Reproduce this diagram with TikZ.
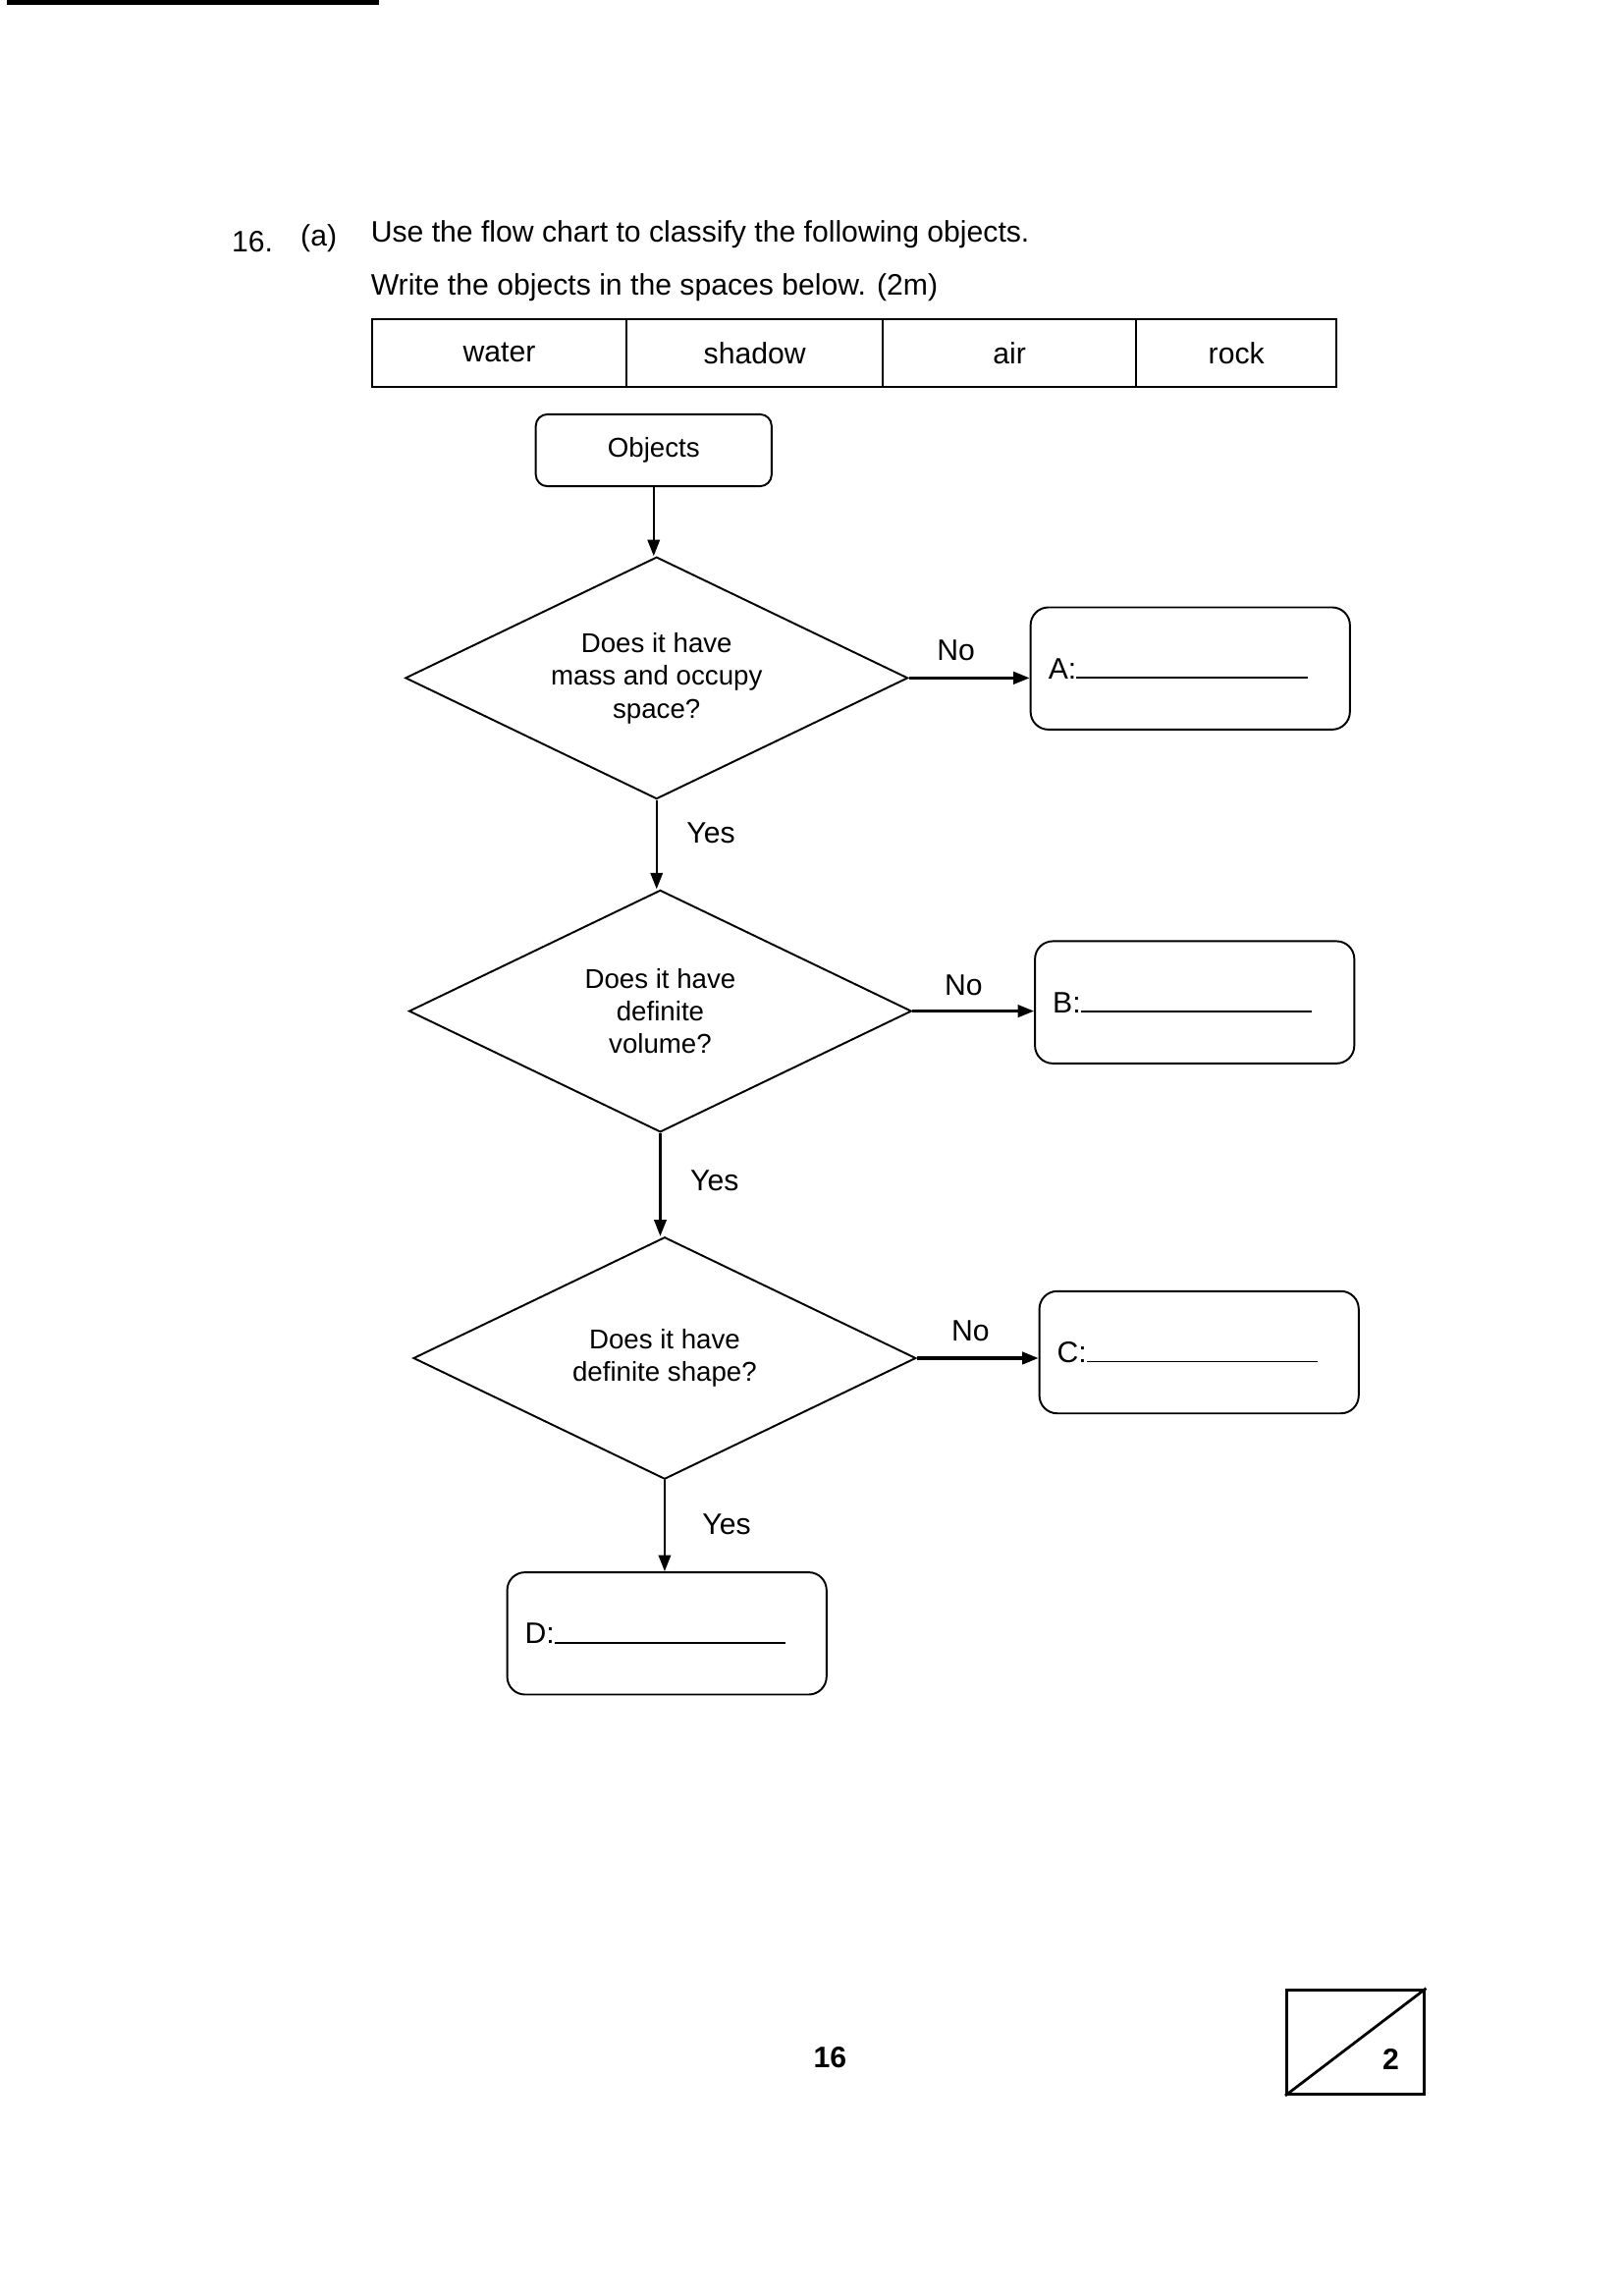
\documentclass[tikz,border=0pt]{standalone}
\usepackage{fontspec}
\setmainfont{Liberation Sans}
\usetikzlibrary{arrows.meta,shapes.geometric}
\tikzset{
  txt/.style={font=\fontsize{10.9}{13}\selectfont, inner sep=0pt, anchor=west},
  cell/.style={draw, line width=0.7pt, minimum height=0.87cm, inner sep=0pt, font=\fontsize{10.9}{13}\selectfont},
  startbox/.style={draw, rounded corners=0.15cm, line width=0.7pt, minimum width=3.05cm, minimum height=0.93cm, font=\fontsize{10}{12}\selectfont},
  qbox/.style={diamond, draw, line width=0.7pt, aspect=2, inner sep=0pt, minimum width=6.5cm, minimum height=3.13cm, align=center, font=\fontsize{10}{12.1}\selectfont},
  ansbox/.style={draw, rounded corners=0.23cm, line width=0.7pt, minimum width=4.13cm, minimum height=1.58cm, inner xsep=0.23cm, text width=3.67cm, align=left, font=\fontsize{10.9}{13}\selectfont},
  yesarr/.style={-{Triangle[length=6pt,width=4.5pt]}, line width=0.8pt},
  noarr/.style={-{Triangle[length=6pt,width=4.5pt]}, line width=1.1pt},
  lbl/.style={font=\fontsize{10.9}{13}\selectfont, inner sep=1pt},
  markbox/.style={draw, line width=1.2pt, minimum width=1.78cm, minimum height=1.345cm, inner sep=0pt},
}
\newcommand{\answerline}[1]{#1:\rule{2.99cm}{0.6pt}}

\begin{document}
\begin{tikzpicture}[x=0.01894cm, y=-0.01894cm]
\useasboundingbox (0,0) rectangle (1109,1568);
\draw[line width=2pt] (5,1.5) -- (259,1.5);
\node[txt] (qnum) at (158,165) {16.};
\node[txt] (qpart) at (205,163) {(a)};
\node[txt] (instr1) at (253,160) {Use the flow chart to classify the following objects.};
\node[txt] (instr2) at (253,196) {Write the objects in the spaces below. (2m)};
\node[cell, minimum width=3.295cm] (water) at (341,241) {water};
\node[cell, minimum width=3.314cm] (shadow) at (515.5,241) {shadow};
\node[cell, minimum width=3.276cm] (air) at (689.5,241) {air};
\node[cell, minimum width=2.594cm] (rock) at (844.5,241) {rock};
\node[startbox] (objects) at (446.5,307.5) {Objects};
\node[qbox] (q1) at (448.5,463) {Does it have\\mass and occupy\\space?};
\node[ansbox] (boxA) at (813,456.5) {\answerline{A}};
\node[qbox] (q2) at (451,690.5) {Does it have\\definite\\volume?};
\node[ansbox] (boxB) at (816,684.5) {\answerline{B}};
\node[qbox] (q3) at (454,927.5) {Does it have\\definite shape?};
\node[ansbox] (boxC) at (819,923.5) {\answerline{C}};
\node[ansbox] (boxD) at (455.5,1115.5) {\answerline{D}};
\draw[yesarr] (objects.south) -- (objects.south |- q1.north);
\draw[noarr] (q1.east) -- node[lbl, above=0.17cm, pos=0.39] {No} (q1.east -| boxA.west);
\draw[yesarr] (q1.south) -- node[lbl, right=0.34cm, pos=0.37] {Yes} (q1.south |- q2.north);
\draw[noarr] (q2.east) -- node[lbl, above=0.15cm, pos=0.42] {No} (q2.east -| boxB.west);
\draw[yesarr] (q2.south) -- node[lbl, right=0.34cm, pos=0.46] {Yes} (q2.south |- q3.north);
\draw[noarr] (q3.east) -- node[lbl, above=0.17cm, pos=0.44] {No} (q3.east -| boxC.west);
\draw[yesarr] (q3.south) -- node[lbl, right=0.44cm, pos=0.48] {Yes} (q3.south |- boxD.north);
\node[font=\fontsize{10.9}{13}\selectfont\bfseries] (pagenum) at (567,1405) {16};
\node[markbox] (marks) at (926,1394.5) {};
\draw[line width=1pt] (marks.south west) -- (marks.north east);
\node[font=\fontsize{10.9}{13}\selectfont\bfseries] (score) at (950,1406) {2};
\end{tikzpicture}
\end{document}
